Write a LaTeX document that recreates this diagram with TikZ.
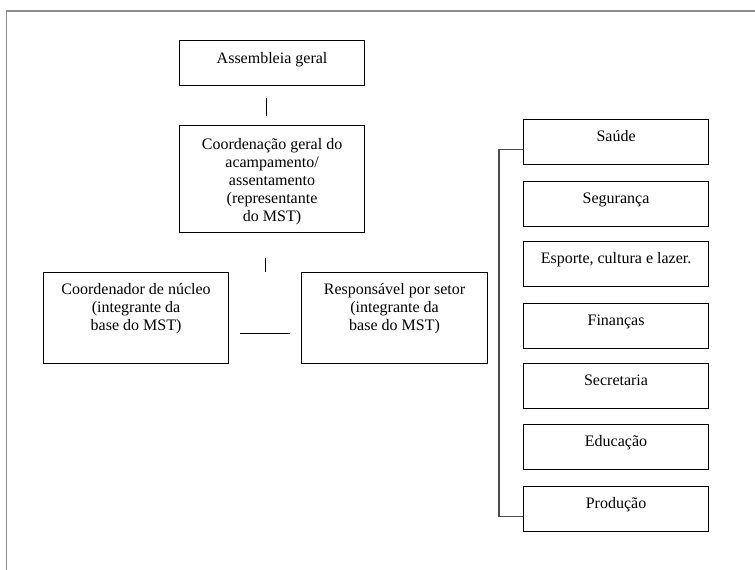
\documentclass[tikz,border=0pt]{standalone}
\usepackage{fontspec}
\setmainfont{Liberation Serif}
\begin{document}
\begin{tikzpicture}[x=1pt,y=-1pt,
  box/.style={draw=black, line width=1.1pt, rectangle, inner sep=0pt, anchor=north west, minimum width=185pt},
  small/.style={box, minimum height=45pt},
  txt/.style={anchor=north, inner sep=0pt, align=center, font=\fontsize{16}{18}\selectfont},
  frameline/.style={draw=black!45, line width=1.4pt},
  link/.style={draw=black, line width=1pt},
  bracket/.style={draw=black!70, line width=1.4pt}]
\useasboundingbox (0,0) rectangle (755,570);
% frame
\coordinate (fa) at (755,11);
\coordinate (fb) at (6.5,11);
\coordinate (fc) at (6.5,570);
\draw[frameline] (fa) -- (fb) -- (fc);

% left hierarchy
\node[small] (asm) at (179,40) {};
\node[txt] (asmt) at ([yshift=-10.4pt]asm.north) {\strut Assembleia geral};
\node[box, minimum height=107pt] (coord) at (179,125) {};
\node[txt] (coordt) at ([yshift=-11.4pt]coord.north) {\strut Coordenação geral do\\acampamento/\\assentamento\\(representante\\do MST)};
\node[box, minimum height=91pt] (nucleo) at (43,272) {};
\node[txt] (nucleot) at ([yshift=-9.4pt]nucleo.north) {\strut Coordenador de núcleo\\(integrante da\\base do MST)};
\node[box, minimum height=91pt, minimum width=186pt] (setor) at (301,272) {};
\node[txt] (setort) at ([yshift=-9.4pt]setor.north) {\strut Responsável por setor\\(integrante da\\base do MST)};

\coordinate (v1a) at (266,98);
\coordinate (v1b) at (266,116);
\coordinate (v2a) at (265,258);
\coordinate (v2b) at (265,272);
\coordinate (h1a) at (240,333);
\coordinate (h1b) at (290,333);
\draw[link] (v1a) -- (v1b);
\draw[link] (v2a) -- (v2b);
\draw[link] (h1a) -- (h1b);

% sectors
\node[small] (s1) at (523,119) {};
\node[txt] at ([yshift=-9.4pt]s1.north) {\strut Saúde};
\node[small] (s2) at (523,181) {};
\node[txt] at ([yshift=-9.4pt]s2.north) {\strut Segurança};
\node[small] (s3) at (523,241) {};
\node[txt] at ([yshift=-9.4pt]s3.north) {\strut Esporte, cultura e lazer.};
\node[small] (s4) at (523,303) {};
\node[txt] at ([yshift=-9.4pt]s4.north) {\strut Finanças};
\node[small] (s5) at (523,363) {};
\node[txt] at ([yshift=-9.4pt]s5.north) {\strut Secretaria};
\node[small] (s6) at (523,424) {};
\node[txt] at ([yshift=-9.4pt]s6.north) {\strut Educação};
\node[small] (s7) at (523,486) {};
\node[txt] at ([yshift=-9.4pt]s7.north) {\strut Produção};

\draw[bracket] ([yshift=-7.5pt]s1.west) -- ++(-24,0) |- ([yshift=-7.5pt]s7.west);
\end{tikzpicture}
\end{document}
